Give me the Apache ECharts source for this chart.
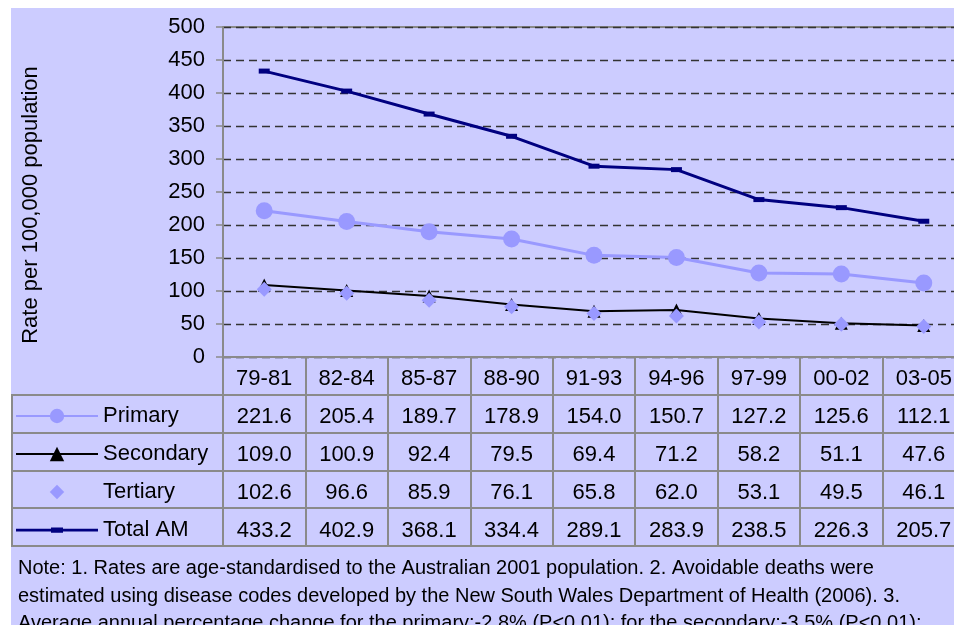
<!DOCTYPE html>
<html>
<head>
<meta charset="utf-8">
<script src="https://cdn.jsdelivr.net/npm/echarts@6/dist/echarts.min.js"></script>
<style>
  html, body { margin: 0; padding: 0; background: #fff; }
  #bg { position: absolute; left: 11px; top: 8px; width: 943px; height: 617px; background: #ccccff; }
  #chart { position: absolute; left: 0; top: 0; width: 954px; height: 625px; }
</style>
</head>
<body>
<div id="bg"></div>
<div id="chart"></div>
<script>
// periods and rates per 100,000
var periods = ["79-81", "82-84", "85-87", "88-90", "91-93", "94-96", "97-99", "00-02", "03-05"];
var primary = [221.6, 205.4, 189.7, 178.9, 154.0, 150.7, 127.2, 125.6, 112.1];
var secondary = [109.0, 100.9, 92.4, 79.5, 69.4, 71.2, 58.2, 51.1, 47.6];
var tertiary = [102.6, 96.6, 85.9, 76.1, 65.8, 62.0, 53.1, 49.5, 46.1];
var totalAM = [433.2, 402.9, 368.1, 334.4, 289.1, 283.9, 238.5, 226.3, 205.7];
var yTicks = [0, 50, 100, 150, 200, 250, 300, 350, 400, 450, 500];
var noteText = "Note: 1. Rates are age-standardised to the Australian 2001 population. 2. Avoidable deaths were\n" +
  "estimated using disease codes developed by the New South Wales Department of Health (2006). 3.\n" +
  "Average annual percentage change for the primary:-2.8% (P<0.01); for the secondary:-3.5% (P<0.01);";

(function() {
  var myChart = echarts.init(document.getElementById("chart"));
  var font = "Liberation Sans, Arial, sans-serif";
  var gridGray = "#8a8a8a";

  // table row lines (below the plot)
  var rowY = [395, 433, 471, 508, 546];
  var graphics = rowY.map(function(y) {
    return {
      type: "line", silent: true,
      shape: { x1: 11, y1: y, x2: 970, y2: y },
      style: { stroke: gridGray, lineWidth: 2 }
    };
  });
  graphics.push({
    type: "line", silent: true,
    shape: { x1: 12, y1: 395, x2: 12, y2: 546 },
    style: { stroke: gridGray, lineWidth: 2 }
  });
  graphics.push({
    type: "text", left: 18, top: 555, silent: true,
    style: { text: noteText, font: "20px " + font, fill: "#000", lineHeight: 27.5 }
  });

  // legend icon for Total AM: thin line + flat rectangle marker (first sliver keeps full height)
  var totalIcon = "path://M0,0L0.01,0L0,18Z M0,7.8L82,7.8L82,10.4L0,10.4Z M35,6.5L47,6.5L47,11.7L35,11.7Z";

  var option = {
    animation: false,
    textStyle: { fontFamily: font },
    grid: {
      left: 223, top: 27, width: 742, height: 330,
      outerBoundsMode: "none",
      show: true, borderColor: gridGray, borderWidth: 2, backgroundColor: "transparent"
    },
    legend: {
      orient: "vertical", left: 15, top: 397, padding: 0, itemGap: 0,
      itemWidth: 82, itemHeight: 18,
      textStyle: { fontSize: 22, lineHeight: 38, color: "#000", fontFamily: font },
      data: ["Primary", "Secondary", "Tertiary", { name: "Total AM", icon: totalIcon }]
    },
    xAxis: {
      type: "category",
      data: periods,
      boundaryGap: true,
      axisLine: { show: true, lineStyle: { color: gridGray, width: 2 } },
      axisTick: { show: true, length: 189, lineStyle: { color: gridGray, width: 2 } },
      axisLabel: {
        margin: 3, color: "#000", fontSize: 22, lineHeight: 38, fontFamily: font,
        formatter: function(v, i) {
          return [v, primary[i].toFixed(1), secondary[i].toFixed(1), tertiary[i].toFixed(1), totalAM[i].toFixed(1)].join("\n");
        }
      }
    },
    yAxis: {
      type: "value",
      min: yTicks[0], max: yTicks[yTicks.length - 1], interval: 50,
      name: "Rate per 100,000 population",
      nameLocation: "middle", nameGap: 181, nameRotate: 90,
      nameTextStyle: { fontSize: 22, color: "#000", fontFamily: font, padding: [0, 26, 0, 0] },
      axisLine: { show: true, lineStyle: { color: gridGray, width: 2 } },
      axisTick: { show: true, length: 7, lineStyle: { color: gridGray, width: 1.5 } },
      axisLabel: { margin: 18, color: "#000", fontSize: 22, fontFamily: font },
      splitLine: { show: true, lineStyle: { color: "#333", width: 1.3, type: [8, 5] } }
    },
    series: [
      {
        name: "Primary", type: "line", data: primary,
        symbol: "circle", symbolSize: 17,
        lineStyle: { color: "#9999ff", width: 3 },
        itemStyle: { color: "#9999ff" }
      },
      {
        name: "Secondary", type: "line", data: secondary,
        symbol: "triangle", symbolSize: 13,
        lineStyle: { color: "#000", width: 2 },
        itemStyle: { color: "#000" }
      },
      {
        name: "Tertiary", type: "line", data: tertiary,
        symbol: "diamond", symbolSize: 15,
        lineStyle: { width: 0, opacity: 0 },
        itemStyle: { color: "#9999ff" }
      },
      {
        name: "Total AM", type: "line", data: totalAM,
        symbol: "rect", symbolSize: [11, 5],
        lineStyle: { color: "#000080", width: 3 },
        itemStyle: { color: "#000080" }
      }
    ],
    graphic: graphics
  };

  myChart.setOption(option);
})();
</script>
</body>
</html>
